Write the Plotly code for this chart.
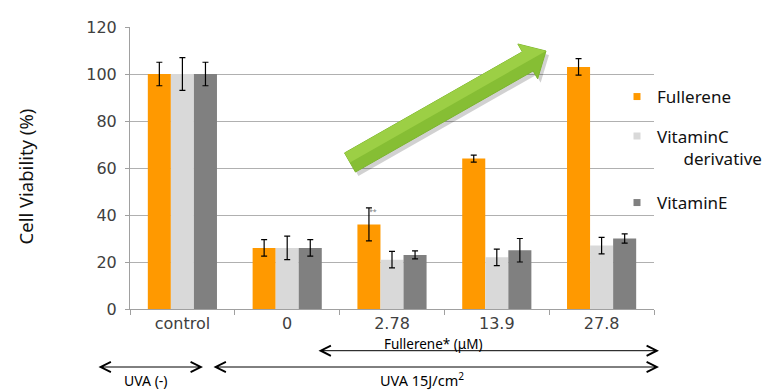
import math
import plotly.graph_objects as go

categories = ["control", "0", "2.78", "13.9", "27.8"]
fullerene = [100, 26, 36, 64, 103]
fullerene_err = [5, 3.5, 7, 1.5, 3.5]
vitc = [100, 26, 21, 22, 27]
vitc_err = [7, 5, 3.5, 3.5, 3.5]
vite = [100, 26, 23, 25, 30]
vite_err = [5, 3.5, 1.7, 5, 2]
y_ticks = [0, 20, 40, 60, 80, 100, 120]

series = [
    ("Fullerene", fullerene, fullerene_err, "#FF9900"),
    ("VitaminC<br>\u00a0\u00a0\u00a0\u00a0\u00a0\u00a0derivative", vitc, vitc_err, "#D9D9D9"),
    ("VitaminE", vite, vite_err, "#808080"),
]

W, H = 767, 391
L, R, T, B = 130, 113, 27, 82
PW, PH = W - L - R, H - T - B

def px2paper(px, py):
    return (px - L) / PW, (H - B - py) / PH

fig = go.Figure()
legend_ids = ["legend", "legend2", "legend3"]
for (name, vals, errs, col), lid in zip(series, legend_ids):
    fig.add_trace(go.Bar(
        x=categories, y=vals, marker=dict(color=col, line=dict(width=0)),
        error_y=dict(type="data", array=errs, color="black", thickness=1.2, width=3),
        showlegend=False, name=name, hoverinfo="skip",
    ))
    fig.add_trace(go.Scatter(
        x=[None], y=[None], mode="markers", name=name,
        marker=dict(symbol="square", size=7, color=col),
        legend=lid, showlegend=True, hoverinfo="skip",
    ))

legend_font = dict(family="Noto Sans, Open Sans, sans-serif", size=17, color="#111")
lx, _ = px2paper(617, 0)
_, y1 = px2paper(0, 97)
_, y2 = px2paper(0, 147.5)
_, y3 = px2paper(0, 203)
common = dict(x=lx, xanchor="left", yanchor="middle", font=legend_font,
              bgcolor="rgba(0,0,0,0)", borderwidth=0, valign="top", itemwidth=30)

# Green trend arrow (decoration)
tx, ty = 350, 162.5
ex, ey = 546, 51
dx, dy = ex - tx, ey - ty
ln = math.hypot(dx, dy)
ux, uy = dx / ln, dy / ln
nx, ny = -uy, ux
hw, headw, headl = 11, 20, 21
pts_un = [(0, -hw), (ln - headl, -hw), (ln - headl, -headw), (ln, 0),
          (ln - headl, headw), (ln - headl, hw), (0, hw)]

def arrow_path(pts, ox=0, oy=0):
    s = []
    for i, (a, b) in enumerate(pts):
        px = tx + a * ux + b * nx + ox
        py = ty + a * uy + b * ny + oy
        X, Y = px2paper(px, py)
        s.append(("M" if i == 0 else "L") + f"{X:.5f},{Y:.5f}")
    return " ".join(s) + " Z"

# lighter highlight on upper half of the arrow
pts_hi = [(0, -hw), (ln - headl, -hw), (ln - headl, -headw), (ln, 0), (0, 0)]

shapes = [
    dict(type="path", xref="paper", yref="paper", path=arrow_path(pts_un, 3, 4),
         fillcolor="rgba(0,0,0,0.18)", line=dict(width=0), layer="above"),
    dict(type="path", xref="paper", yref="paper", path=arrow_path(pts_un),
         fillcolor="#86BE34", line=dict(color="#7DB52E", width=1), layer="above"),
    dict(type="path", xref="paper", yref="paper", path=arrow_path(pts_hi),
         fillcolor="#9CCF45", line=dict(width=0), layer="above"),
]

def dbl_arrow(x0px, x1px, ypx):
    X1, Y = px2paper(x1px, ypx)
    return dict(xref="paper", yref="paper", x=X1, y=Y, ax=-(x1px - x0px), ay=0,
                axref="pixel", ayref="pixel", text="", showarrow=True,
                arrowhead=5, startarrowhead=5, arrowside="end+start",
                arrowsize=2.0, startarrowsize=2.0, arrowwidth=1, arrowcolor="black")

def label(text, xpx, ypx, size=13, angle=0, color="black"):
    X, Y = px2paper(xpx, ypx)
    return dict(xref="paper", yref="paper", x=X, y=Y, text=text, showarrow=False,
                xanchor="center", yanchor="middle", textangle=angle,
                font=dict(family="Noto Sans, Open Sans, sans-serif", size=size, color=color))

sx, sy = px2paper(373, 211)
annotations = [
    dbl_arrow(317, 659, 350.7),
    dbl_arrow(97, 203, 367),
    dbl_arrow(212, 659, 367),
    label("Fullerene* (\u03bcM)", 433, 343.5, size=13.5),
    label("UVA (-)", 146, 380.5, size=14),
    label("UVA 15J/cm<sup>2</sup>", 422, 379, size=14.5),
    label("Cell Viability (%)", 25, 176.5, size=18.5, angle=-90, color="#111"),
    dict(xref="paper", yref="paper", x=sx, y=sy, text="**", showarrow=False,
         font=dict(size=7, color="#777"), xanchor="center", yanchor="middle"),
]

axis_font = dict(family="DejaVu Sans, sans-serif", size=16, color="#404040")
fig.update_layout(
    width=W, height=H, margin=dict(l=L, r=R, t=T, b=B, autoexpand=False),
    plot_bgcolor="white", paper_bgcolor="white",
    barmode="group", bargap=0.34, bargroupgap=0,
    hovermode=False,
    xaxis=dict(type="category", showgrid=False, showline=True, linecolor="#A0A0A0",
               linewidth=1, ticks="outside", tickson="boundaries", ticklen=5,
               tickcolor="#A0A0A0", tickfont=axis_font, zeroline=False),
    yaxis=dict(range=[0, 120], tickvals=y_ticks, showgrid=True, gridcolor="#B0B0B0",
               gridwidth=1, showline=True, linecolor="#A0A0A0", ticks="outside",
               ticklen=4, tickcolor="#A0A0A0", tickfont=axis_font, zeroline=False,
               ticklabelstandoff=5),
    legend=dict(y=y1, **common),
    legend2=dict(y=y2, **common),
    legend3=dict(y=y3, **common),
    shapes=shapes, annotations=annotations,
)

fig.write_html("out.html", config={"displayModeBar": False},
               post_script="document.body.style.margin='0px';")
